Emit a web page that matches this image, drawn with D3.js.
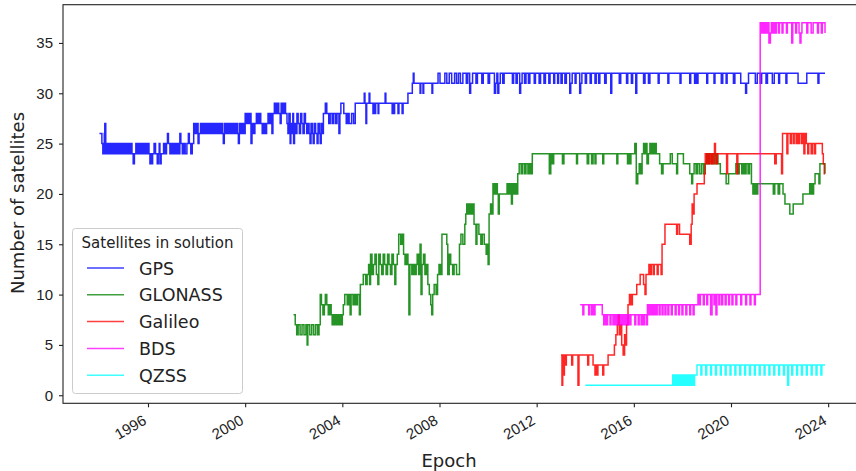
<!DOCTYPE html>
<html>
<head>
<meta charset="utf-8">
<script src="https://cdn.jsdelivr.net/npm/d3@7"></script>
<style>
  body { margin: 0; background: #fff; }
  svg { display: block; font-family: "DejaVu Sans", sans-serif; }
</style>
</head>
<body>
<svg id="chart" width="856" height="471"></svg>
<script>
// [decimal year, satellites]
const gps = [
  [1994.00,26],[1994.10,25],[1994.14,24],[1994.20,26],[1994.22,27],[1994.26,24],[1994.32,25],[1994.38,24],
  [1994.44,25],[1994.50,24],[1994.56,25],[1994.62,24],[1994.68,25],[1994.74,24],[1994.80,25],[1994.86,24],
  [1994.92,25],[1994.98,24],[1995.04,25],[1995.10,24],[1995.16,25],[1995.22,24],[1995.28,25],[1995.34,24],
  [1995.39,23],[1995.44,24],[1995.50,25],[1995.56,24],[1995.62,25],[1995.68,24],[1995.74,25],[1995.80,24],
  [1995.86,25],[1995.92,24],[1995.98,25],[1996.04,24],[1996.08,23],[1996.12,24],[1996.15,23],[1996.19,24],
  [1996.25,25],[1996.31,24],[1996.38,23],[1996.42,24],[1996.46,25],[1996.49,23],[1996.54,24],[1996.64,25],
  [1996.70,24],[1996.76,25],[1996.80,26],[1996.84,25],[1996.90,24],[1996.96,25],[1997.02,24],[1997.08,25],
  [1997.14,24],[1997.20,25],[1997.26,24],[1997.31,26],[1997.35,25],[1997.41,24],[1997.47,25],[1997.53,24],
  [1997.60,25],[1997.66,26],[1997.70,25],[1997.76,24],[1997.82,25],[1997.88,27],[1997.94,26],[1998.00,27],
  [1998.06,25],[1998.10,26],[1998.16,27],[1998.22,26],[1998.28,27],[1998.34,26],[1998.40,27],[1998.46,26],
  [1998.52,27],[1998.58,26],[1998.64,27],[1998.70,26],[1998.76,27],[1998.82,26],[1998.88,27],[1998.94,26],
  [1999.00,27],[1999.06,26],[1999.10,25],[1999.14,27],[1999.20,26],[1999.26,27],[1999.32,26],[1999.38,27],
  [1999.44,26],[1999.50,27],[1999.56,26],[1999.62,27],[1999.68,26],[1999.72,25],[1999.76,27],[1999.82,26],
  [1999.88,27],[1999.94,26],[2000.00,28],[2000.05,27],[2000.10,28],[2000.15,27],[2000.20,28],[2000.24,25],
  [2000.28,27],[2000.34,26],[2000.40,27],[2000.46,28],[2000.52,27],[2000.58,28],[2000.64,27],[2000.70,26],
  [2000.76,27],[2000.82,26],[2000.88,27],[2000.94,28],[2001.00,27],[2001.06,28],[2001.10,26],[2001.14,28],
  [2001.20,29],[2001.26,28],[2001.32,29],[2001.38,28],[2001.44,27],[2001.48,29],[2001.54,28],[2001.60,29],
  [2001.66,28],[2001.72,27],[2001.76,26],[2001.80,28],[2001.85,25],[2001.88,27],[2001.92,26],[2001.96,28],
  [2001.99,25],[2002.03,27],[2002.08,26],[2002.13,28],[2002.18,27],[2002.23,26],[2002.28,28],[2002.33,27],
  [2002.38,26],[2002.43,28],[2002.48,27],[2002.53,26],[2002.58,27],[2002.63,26],[2002.67,25],[2002.71,27],
  [2002.76,26],[2002.80,25],[2002.84,27],[2002.90,26],[2002.96,25],[2003.00,27],[2003.06,26],[2003.09,25],
  [2003.13,27],[2003.18,26],[2003.22,28],[2003.30,29],[2003.36,28],[2003.44,27],[2003.50,28],[2003.58,27],
  [2003.64,28],[2003.72,27],[2003.78,28],[2003.86,26],[2003.90,28],[2003.94,29],[2004.06,28],[2004.16,27],
  [2004.22,28],[2004.28,27],[2004.38,28],[2004.46,27],[2004.53,29],[2004.90,30],[2004.93,29],[2004.97,27],
  [2005.00,29],[2005.10,30],[2005.13,29],[2005.26,28],[2005.29,29],[2005.34,28],[2005.37,29],[2005.47,28],
  [2005.50,29],[2005.76,30],[2005.79,29],[2006.05,28],[2006.09,29],[2006.12,28],[2006.15,29],[2006.29,28],
  [2006.33,29],[2006.46,28],[2006.50,29],[2006.70,30],[2006.88,31],[2006.92,32],[2006.95,31],[2007.20,30],
  [2007.23,31],[2007.32,30],[2007.35,31],[2007.69,30],[2007.72,31],[2007.94,32],[2008.02,31],[2008.22,32],
  [2008.30,31],[2008.40,32],[2008.50,31],[2008.62,32],[2008.70,31],[2008.78,32],[2008.86,31],[2008.96,32],
  [2009.10,31],[2009.16,32],[2009.24,30],[2009.28,31],[2009.36,32],[2009.50,31],[2009.56,32],[2009.74,31],
  [2009.80,32],[2010.00,31],[2010.06,32],[2010.26,30],[2010.31,31],[2010.36,32],[2010.40,30],[2010.44,31],
  [2010.50,32],[2010.60,31],[2010.66,32],[2011.00,31],[2011.05,32],[2011.15,31],[2011.20,32],[2011.30,30],
  [2011.34,31],[2011.40,32],[2011.50,31],[2011.56,32],[2011.66,31],[2011.72,32],[2011.90,31],[2011.95,32],
  [2012.10,31],[2012.16,32],[2012.30,31],[2012.36,32],[2012.50,31],[2012.55,32],[2012.70,31],[2012.74,32],
  [2012.86,31],[2012.90,32],[2013.00,31],[2013.05,32],[2013.16,31],[2013.22,32],[2013.36,30],[2013.40,31],
  [2013.46,32],[2013.58,31],[2013.62,32],[2013.77,30],[2013.81,31],[2013.86,32],[2014.00,31],[2014.05,32],
  [2014.20,31],[2014.25,32],[2014.40,31],[2014.45,32],[2014.55,31],[2014.60,32],[2014.80,31],[2014.86,32],
  [2015.05,30],[2015.09,32],[2015.40,31],[2015.46,32],[2015.70,31],[2015.75,32],[2015.90,31],[2015.95,32],
  [2016.08,30],[2016.12,32],[2016.40,31],[2016.46,32],[2016.60,31],[2016.66,32],[2017.00,31],[2017.04,32],
  [2017.40,31],[2017.44,32],[2017.90,31],[2017.94,32],[2018.30,31],[2018.34,32],[2018.50,31],[2018.54,32],
  [2018.60,31],[2018.64,32],[2019.00,31],[2019.04,32],[2019.30,31],[2019.34,32],[2019.60,31],[2019.66,32],
  [2019.80,31],[2019.84,32],[2020.10,31],[2020.16,32],[2020.40,31],[2020.60,30],[2020.64,31],[2020.72,32],
  [2021.00,31],[2021.08,32],[2021.20,31],[2021.26,32],[2021.44,31],[2021.50,32],[2021.70,31],[2021.78,32],
  [2021.96,31],[2022.00,32],[2022.26,31],[2022.30,32],[2022.76,31],[2023.12,32],[2023.58,31],[2023.62,32],
  [2023.87,32]
];

const glonass = [
  [2001.99,8],[2002.06,7],[2002.12,6],[2002.18,7],[2002.26,6],[2002.34,7],[2002.42,6],[2002.50,7],
  [2002.55,5],[2002.58,7],[2002.66,6],[2002.74,7],[2002.82,6],[2002.90,7],[2002.98,6],[2003.04,7],
  [2003.09,10],[2003.14,9],[2003.20,8],[2003.26,9],[2003.30,10],[2003.36,9],[2003.42,8],[2003.48,9],
  [2003.54,8],[2003.58,7],[2003.64,8],[2003.70,7],[2003.76,8],[2003.82,7],[2003.88,8],[2003.94,7],
  [2004.00,8],[2004.04,9],[2004.10,10],[2004.20,9],[2004.26,10],[2004.32,8],[2004.36,10],[2004.44,9],
  [2004.50,10],[2004.56,9],[2004.62,10],[2004.70,8],[2004.74,11],[2004.86,12],[2004.96,11],[2005.02,12],
  [2005.08,13],[2005.12,11],[2005.16,14],[2005.22,12],[2005.28,13],[2005.34,14],[2005.40,12],[2005.46,11],
  [2005.50,14],[2005.56,13],[2005.62,12],[2005.68,14],[2005.74,13],[2005.80,12],[2005.86,14],[2005.92,13],
  [2005.98,12],[2006.04,14],[2006.10,13],[2006.16,11],[2006.20,13],[2006.26,14],[2006.32,16],[2006.40,15],
  [2006.46,16],[2006.52,14],[2006.58,13],[2006.64,14],[2006.70,13],[2006.74,8],[2006.78,13],[2006.86,12],
  [2006.92,13],[2006.98,12],[2007.04,13],[2007.08,14],[2007.14,12],[2007.20,15],[2007.24,10],[2007.28,13],
  [2007.34,14],[2007.40,12],[2007.46,13],[2007.52,11],[2007.58,10],[2007.64,9],[2007.68,8],[2007.72,10],
  [2007.78,11],[2007.86,10],[2007.92,12],[2007.98,13],[2008.04,12],[2008.10,16],[2008.30,15],[2008.34,12],
  [2008.40,14],[2008.46,13],[2008.54,12],[2008.60,13],[2008.70,12],[2008.82,15],[2008.88,16],[2008.96,15],
  [2009.04,17],[2009.08,18],[2009.12,19],[2009.18,18],[2009.24,19],[2009.30,18],[2009.36,19],[2009.42,17],
  [2009.50,15],[2009.54,17],[2009.62,16],[2009.70,15],[2009.76,16],[2009.84,15],[2009.92,14],[2009.96,15],
  [2010.00,13],[2010.04,18],[2010.10,19],[2010.14,18],[2010.20,21],[2010.26,20],[2010.32,21],[2010.38,20],
  [2010.42,18],[2010.46,20],[2010.78,21],[2010.84,20],[2010.90,21],[2010.96,19],[2011.00,21],[2011.06,20],
  [2011.12,21],[2011.18,20],[2011.22,22],[2011.28,23],[2011.36,22],[2011.42,23],[2011.50,22],[2011.56,23],
  [2011.64,22],[2011.70,23],[2011.76,22],[2011.82,24],[2012.52,22],[2012.58,24],[2012.64,23],[2012.70,24],
  [2013.06,23],[2013.12,24],[2013.64,23],[2013.68,24],[2014.08,23],[2014.14,24],[2014.26,23],[2014.32,24],
  [2014.40,23],[2014.44,24],[2014.72,23],[2014.76,24],[2015.30,23],[2015.34,24],[2015.74,23],[2015.80,24],
  [2015.84,23],[2015.88,24],[2016.04,25],[2016.10,21],[2016.16,22],[2016.22,23],[2016.28,22],[2016.34,24],
  [2016.40,25],[2016.44,24],[2016.50,25],[2016.54,23],[2016.60,24],[2016.66,25],[2016.72,24],[2016.78,25],
  [2016.82,24],[2016.86,25],[2016.92,24],[2017.06,23],[2017.14,22],[2017.20,23],[2017.50,24],[2017.58,23],
  [2017.76,22],[2017.80,24],[2018.04,23],[2018.30,22],[2018.38,21],[2018.42,22],[2018.48,23],[2018.56,22],
  [2018.62,23],[2018.70,22],[2018.78,23],[2018.86,22],[2018.92,23],[2019.00,24],[2019.06,23],[2019.12,24],
  [2019.20,23],[2019.26,24],[2019.34,23],[2019.40,24],[2019.46,23],[2019.56,22],[2019.80,21],[2019.90,22],
  [2020.20,23],[2020.28,22],[2020.34,23],[2020.44,22],[2020.50,23],[2020.56,22],[2020.62,23],[2020.70,22],
  [2020.76,23],[2020.84,21],[2020.90,20],[2020.94,21],[2020.98,20],[2021.02,21],[2021.06,20],[2021.10,21],
  [2021.74,20],[2021.80,21],[2021.94,20],[2022.00,21],[2022.14,20],[2022.22,19],[2022.42,18],[2022.56,19],
  [2022.96,20],[2023.24,21],[2023.28,20],[2023.32,21],[2023.36,20],[2023.40,21],[2023.46,22],[2023.62,21],
  [2023.66,23],[2023.87,22]
];

const galileo = [
  [2013.00,4],[2013.04,1],[2013.07,4],[2013.10,2],[2013.14,4],[2013.18,3],[2013.22,4],[2013.44,3],
  [2013.48,4],[2013.70,1],[2013.74,4],[2014.10,3],[2014.14,4],[2014.32,3],[2014.40,2],[2014.44,3],
  [2014.48,2],[2014.52,3],[2014.72,2],[2014.76,3],[2014.94,4],[2015.20,5],[2015.26,6],[2015.32,7],
  [2015.36,8],[2015.40,6],[2015.44,7],[2015.50,5],[2015.56,4],[2015.62,6],[2015.66,5],[2015.70,7],
  [2015.76,9],[2015.82,10],[2015.88,9],[2015.94,10],[2016.12,11],[2016.26,12],[2016.40,11],[2016.46,10],
  [2016.50,12],[2016.62,13],[2016.66,12],[2016.72,13],[2016.80,12],[2016.84,13],[2016.96,12],[2017.00,13],
  [2017.12,12],[2017.16,15],[2017.28,17],[2017.76,16],[2017.80,17],[2017.88,16],[2018.30,15],[2018.36,17],
  [2018.40,19],[2018.44,18],[2018.48,20],[2018.60,21],[2018.90,22],[2018.94,24],[2019.00,23],[2019.04,24],
  [2019.08,23],[2019.12,24],[2019.16,23],[2019.20,24],[2019.26,23],[2019.32,25],[2019.36,24],[2019.40,23],
  [2019.44,24],[2019.82,22],[2019.86,24],[2020.24,22],[2020.28,24],[2021.80,23],[2021.86,24],[2022.08,22],
  [2022.12,26],[2022.30,24],[2022.34,26],[2022.44,25],[2022.48,26],[2022.56,25],[2022.60,26],[2022.68,25],
  [2022.72,26],[2022.78,25],[2022.82,26],[2022.90,25],[2022.94,26],[2023.00,24],[2023.04,26],[2023.10,25],
  [2023.16,24],[2023.20,25],[2023.30,24],[2023.36,25],[2023.44,24],[2023.48,25],[2023.76,24],[2023.80,23],
  [2023.84,22],[2023.87,22]
];

const bds = [
  [2013.79,9],[2013.90,8],[2013.94,9],[2014.14,8],[2014.18,9],[2014.26,8],[2014.30,9],[2014.36,8],
  [2014.40,9],[2014.70,8],[2014.76,7],[2014.82,8],[2014.86,7],[2014.92,8],[2015.02,7],[2015.06,8],
  [2015.14,7],[2015.18,8],[2015.22,7],[2015.26,8],[2015.32,7],[2015.36,8],[2015.44,7],[2015.48,8],
  [2015.54,7],[2015.58,8],[2015.64,7],[2015.68,8],[2015.74,7],[2015.78,8],[2015.84,7],[2015.88,8],
  [2016.04,7],[2016.08,8],[2016.18,7],[2016.22,8],[2016.30,7],[2016.34,8],[2016.40,7],[2016.44,8],
  [2016.52,7],[2016.56,9],[2016.62,8],[2016.66,9],[2016.72,8],[2016.76,9],[2016.82,8],[2016.86,9],
  [2016.92,8],[2016.96,9],[2017.04,8],[2017.08,9],[2017.16,8],[2017.20,9],[2017.28,8],[2017.32,9],
  [2017.40,8],[2017.44,9],[2017.54,8],[2017.58,9],[2017.70,8],[2017.74,9],[2017.84,8],[2017.88,9],
  [2017.98,8],[2018.02,9],[2018.14,8],[2018.18,9],[2018.30,8],[2018.34,9],[2018.44,8],[2018.48,9],
  [2018.64,10],[2018.70,9],[2018.74,10],[2018.86,9],[2018.90,10],[2019.00,9],[2019.04,10],[2019.16,8],
  [2019.22,10],[2019.30,9],[2019.34,10],[2019.38,8],[2019.42,10],[2019.50,9],[2019.54,10],[2019.62,9],
  [2019.66,10],[2019.76,9],[2019.80,10],[2019.90,9],[2019.94,10],[2020.04,9],[2020.08,10],[2020.20,9],
  [2020.24,10],[2020.40,9],[2020.44,10],[2020.60,9],[2020.64,10],[2020.78,9],[2020.82,10],[2020.96,9],
  [2021.00,10],[2021.20,37],[2021.24,36],[2021.28,37],[2021.32,36],[2021.36,37],[2021.40,36],[2021.44,37],
  [2021.48,36],[2021.52,37],[2021.56,35],[2021.62,36],[2021.66,37],[2021.72,36],[2021.76,37],[2021.82,36],
  [2021.86,37],[2021.95,36],[2021.99,37],[2022.10,36],[2022.14,37],[2022.28,36],[2022.32,37],[2022.50,35],
  [2022.54,37],[2022.66,36],[2022.70,37],[2022.80,36],[2022.84,35],[2022.88,36],[2022.92,37],[2023.12,36],
  [2023.16,37],[2023.30,36],[2023.38,37],[2023.56,36],[2023.60,37],[2023.72,36],[2023.76,37],[2023.87,36]
];

const qzss = [
  [2014.00,1],[2017.60,2],[2017.66,1],[2017.70,2],[2017.76,1],[2017.80,2],[2017.86,1],[2017.90,2],
  [2017.96,1],[2018.00,2],[2018.06,1],[2018.10,2],[2018.16,1],[2018.20,2],[2018.26,1],[2018.30,2],
  [2018.36,1],[2018.40,2],[2018.46,1],[2018.50,2],[2018.60,3],[2018.76,2],[2018.80,3],[2018.96,2],
  [2019.00,3],[2019.16,2],[2019.20,3],[2019.36,2],[2019.40,3],[2019.56,2],[2019.60,3],[2019.76,2],
  [2019.80,3],[2019.96,2],[2020.00,3],[2020.16,2],[2020.20,3],[2020.36,2],[2020.40,3],[2020.56,2],
  [2020.60,3],[2020.76,2],[2020.80,3],[2020.96,2],[2021.00,3],[2021.16,2],[2021.20,3],[2021.36,2],
  [2021.40,3],[2021.56,2],[2021.60,3],[2021.76,2],[2021.80,3],[2021.96,2],[2022.00,3],[2022.16,2],
  [2022.20,3],[2022.33,1],[2022.37,3],[2022.50,2],[2022.54,3],[2022.70,2],[2022.74,3],[2022.90,2],
  [2022.94,3],[2023.10,2],[2023.14,3],[2023.30,2],[2023.34,3],[2023.50,2],[2023.54,3],[2023.70,2],
  [2023.74,3],[2023.87,3]
];

const seriesNames = ["GPS", "GLONASS", "Galileo", "BDS", "QZSS"];
const seriesColors = ["#0000ff", "#008000", "#ff0000", "#ff00ff", "#00ffff"];
const seriesData = [gps, glonass, galileo, bds, qzss];
const yTicks = [0, 5, 10, 15, 20, 25, 30, 35];
const xTickYears = [1996, 2000, 2004, 2008, 2012, 2016, 2020, 2024];

// decimal year -> Date
function toDate(yr) {
  const y = Math.floor(yr);
  const start = Date.UTC(y, 0, 1), end = Date.UTC(y + 1, 0, 1);
  return new Date(start + (yr - y) * (end - start));
}

const svg = d3.select("#chart");
const plotLeft = 63, plotRight = 861, plotTop = 4.7, plotBottom = 403.3;

const x = d3.scaleTime()
  .domain([toDate(1992.5), toDate(2025.35)])
  .range([plotLeft, plotRight]);

const y = d3.scaleLinear()
  .domain([-0.8, 38.8])
  .range([plotBottom, plotTop]);

const line = d3.line()
  .x(d => x(toDate(d[0])))
  .y(d => y(d[1]))
  .curve(d3.curveStepAfter);

const plot = svg.append("g");
seriesData.forEach((s, i) => {
  plot.append("path")
    .datum(s)
    .attr("fill", "none")
    .attr("stroke", seriesColors[i])
    .attr("stroke-opacity", 0.85)
    .attr("stroke-width", 1.5)
    .attr("d", line);
});

// axes
const xAxis = svg.append("g")
  .attr("transform", "translate(0," + plotBottom + ")")
  .call(d3.axisBottom(x)
    .tickValues(xTickYears.map(t => toDate(t)))
    .tickFormat(d3.timeFormat("%Y"))
    .tickSizeInner(4).tickSizeOuter(0));
xAxis.select(".domain").remove();
xAxis.selectAll("text")
  .attr("y", null).attr("dy", null)
  .attr("text-anchor", "end")
  .attr("transform", "translate(-1,20) rotate(-30)")
  .style("font-size", "15px")
  .style("fill", "#222");

const yAxis = svg.append("g")
  .attr("transform", "translate(" + plotLeft + ",0)")
  .call(d3.axisLeft(y).tickValues(yTicks).tickSizeInner(4).tickSizeOuter(0).tickPadding(6));
yAxis.select(".domain").remove();
yAxis.selectAll("text").style("font-size", "15px").style("fill", "#222");
svg.selectAll(".tick line").attr("stroke", "#222").attr("stroke-width", 1.1);

// frame
svg.append("rect")
  .attr("x", plotLeft).attr("y", plotTop)
  .attr("width", plotRight - plotLeft).attr("height", plotBottom - plotTop)
  .attr("fill", "none")
  .attr("stroke", "#222")
  .attr("stroke-width", 1.1);

// axis labels
svg.append("text")
  .attr("x", 449).attr("y", 467)
  .attr("text-anchor", "middle")
  .style("font-size", "18px").style("fill", "#222")
  .text("Epoch");

svg.append("text")
  .attr("transform", "translate(24,203) rotate(-90)")
  .attr("text-anchor", "middle")
  .style("font-size", "18px").style("fill", "#222")
  .text("Number of satellites");

// legend
const legend = svg.append("g");
legend.append("rect")
  .attr("x", 72.5).attr("y", 228.5)
  .attr("width", 170).attr("height", 165)
  .attr("rx", 3)
  .attr("fill", "#fff").attr("fill-opacity", 0.8)
  .attr("stroke", "#ccc");
legend.append("text")
  .attr("x", 157.5).attr("y", 248)
  .attr("text-anchor", "middle")
  .style("font-size", "15px").style("fill", "#222")
  .text("Satellites in solution");
seriesNames.forEach((name, i) => {
  const cy = 268 + i * 26.8;
  legend.append("line")
    .attr("x1", 87).attr("x2", 124)
    .attr("y1", cy).attr("y2", cy)
    .attr("stroke", seriesColors[i])
    .attr("stroke-opacity", 0.75)
    .attr("stroke-width", 1.5);
  legend.append("text")
    .attr("x", 139).attr("y", cy + 6.5)
    .style("font-size", "17.5px").style("fill", "#222")
    .text(name);
});
</script>
</body>
</html>
